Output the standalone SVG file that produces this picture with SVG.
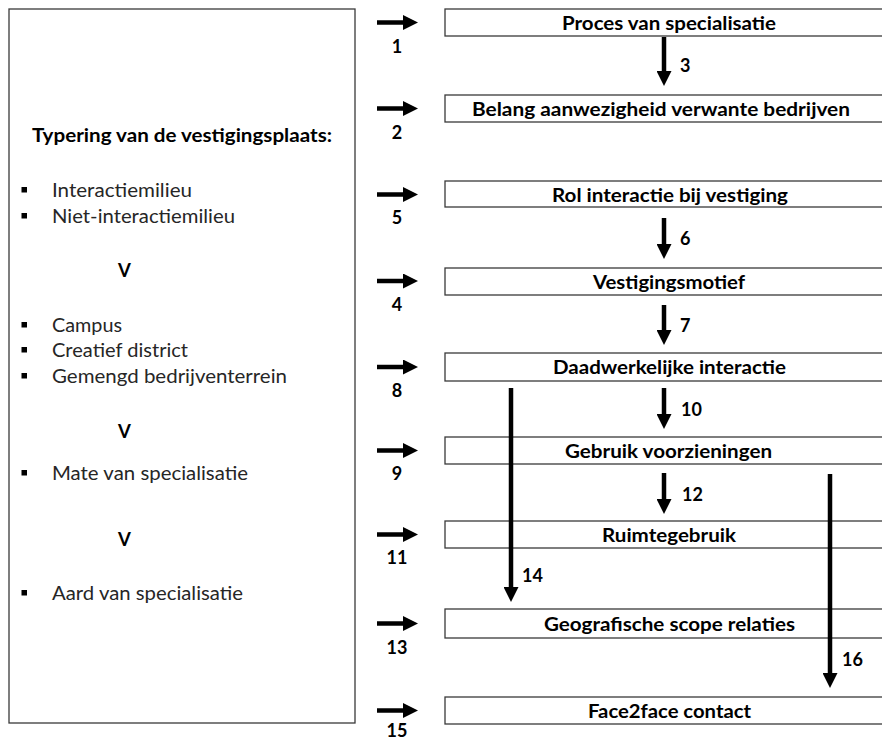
<svg xmlns="http://www.w3.org/2000/svg" width="882" height="740" viewBox="0 0 882 740">
<style>
.box{fill:#fff;stroke:#3a3a3a;stroke-width:1.3}
.bt{font-family:Lato,"Liberation Sans",sans-serif;font-weight:bold;font-size:19.5px;fill:#000}
.lt{font-family:Lato,"Liberation Sans",sans-serif;font-size:18.5px;fill:#262626}
.ttl{font-family:Lato,"Liberation Sans",sans-serif;font-weight:bold;font-size:18.5px;fill:#000}
.num{font-family:Lato,"Liberation Sans",sans-serif;font-weight:bold;font-size:18px;fill:#000;text-anchor:middle}
.vn{font-family:Lato,"Liberation Sans",sans-serif;font-weight:bold;font-size:18px;fill:#000}
.bul{fill:#000}
.arr{stroke:#000;stroke-width:4.5;fill:none;marker-end:url(#ah)}
</style>
<defs>
<marker id="ah" viewBox="0 0 15 15" refX="3" refY="7.5" markerWidth="15" markerHeight="15" markerUnits="userSpaceOnUse" orient="auto">
<path d="M0,0 L15,7.5 L0,15 z" fill="#000"/>
</marker>
</defs>
<rect width="882" height="740" fill="#fff"/>

<g id="left-panel">
<rect class="box" x="9" y="9" width="346" height="714"/>
<text class="ttl" x="32" y="142" textLength="300" lengthAdjust="spacingAndGlyphs">Typering van de vestigingsplaats:</text>
<rect class="bul" x="21.5" y="187" width="5.5" height="5.5"/>
<text class="lt" x="52" y="197" textLength="140" lengthAdjust="spacingAndGlyphs">Interactiemilieu</text>
<rect class="bul" x="21.5" y="213" width="5.5" height="5.5"/>
<text class="lt" x="52" y="223" textLength="183" lengthAdjust="spacingAndGlyphs">Niet-interactiemilieu</text>
<text class="ttl" x="124.5" y="277" text-anchor="middle">V</text>
<rect class="bul" x="21.5" y="322" width="5.5" height="5.5"/>
<text class="lt" x="52" y="332" textLength="70" lengthAdjust="spacingAndGlyphs">Campus</text>
<rect class="bul" x="21.5" y="347" width="5.5" height="5.5"/>
<text class="lt" x="52" y="357" textLength="136" lengthAdjust="spacingAndGlyphs">Creatief district</text>
<rect class="bul" x="21.5" y="373" width="5.5" height="5.5"/>
<text class="lt" x="52" y="383" textLength="235" lengthAdjust="spacingAndGlyphs">Gemengd bedrijventerrein</text>
<text class="ttl" x="124.5" y="438" text-anchor="middle">V</text>
<rect class="bul" x="21.5" y="470" width="5.5" height="5.5"/>
<text class="lt" x="52" y="480" textLength="196" lengthAdjust="spacingAndGlyphs">Mate van specialisatie</text>
<text class="ttl" x="124.5" y="546" text-anchor="middle">V</text>
<rect class="bul" x="21.5" y="590" width="5.5" height="5.5"/>
<text class="lt" x="52" y="600" textLength="191" lengthAdjust="spacingAndGlyphs">Aard van specialisatie</text>
</g>

<g id="n1"><rect class="box" x="445" y="9" width="445" height="27"/><text class="bt" x="562" y="29.5" textLength="214" lengthAdjust="spacingAndGlyphs">Proces van specialisatie</text></g>
<g id="n2"><rect class="box" x="445" y="95" width="445" height="27"/><text class="bt" x="472" y="115.5" textLength="378" lengthAdjust="spacingAndGlyphs">Belang aanwezigheid verwante bedrijven</text></g>
<g id="n5"><rect class="box" x="445" y="181" width="445" height="26"/><text class="bt" x="552" y="201.5" textLength="236" lengthAdjust="spacingAndGlyphs">Rol interactie bij vestiging</text></g>
<g id="n4"><rect class="box" x="445" y="268" width="445" height="27"/><text class="bt" x="593" y="288.5" textLength="152" lengthAdjust="spacingAndGlyphs">Vestigingsmotief</text></g>
<g id="n8"><rect class="box" x="445" y="353" width="445" height="28"/><text class="bt" x="553" y="374" textLength="233" lengthAdjust="spacingAndGlyphs">Daadwerkelijke interactie</text></g>
<g id="n9"><rect class="box" x="445" y="437" width="445" height="27"/><text class="bt" x="565" y="457.5" textLength="207" lengthAdjust="spacingAndGlyphs">Gebruik voorzieningen</text></g>
<g id="n11"><rect class="box" x="445" y="521" width="445" height="27"/><text class="bt" x="602" y="541.5" textLength="134" lengthAdjust="spacingAndGlyphs">Ruimtegebruik</text></g>
<g id="n13"><rect class="box" x="445" y="609" width="445" height="29"/><text class="bt" x="544" y="630.5" textLength="251" lengthAdjust="spacingAndGlyphs">Geografische scope relaties</text></g>
<g id="n15"><rect class="box" x="445" y="697" width="445" height="27"/><text class="bt" x="588" y="717.5" textLength="163" lengthAdjust="spacingAndGlyphs">Face2face contact</text></g>

<g id="connectors">
<line class="arr" x1="377" y1="22.5" x2="406" y2="22.5"/>
<line class="arr" x1="377" y1="108.5" x2="406" y2="108.5"/>
<line class="arr" x1="377" y1="194.5" x2="406" y2="194.5"/>
<line class="arr" x1="377" y1="281" x2="406" y2="281"/>
<line class="arr" x1="377" y1="367" x2="406" y2="367"/>
<line class="arr" x1="377" y1="450.5" x2="406" y2="450.5"/>
<line class="arr" x1="377" y1="534.5" x2="406" y2="534.5"/>
<line class="arr" x1="377" y1="623.5" x2="406" y2="623.5"/>
<line class="arr" x1="377" y1="710.5" x2="406" y2="710.5"/>
<line class="arr" x1="664" y1="37" x2="664" y2="74"/>
<line class="arr" x1="664" y1="218" x2="664" y2="247"/>
<line class="arr" x1="664" y1="305" x2="664" y2="333"/>
<line class="arr" x1="664" y1="388" x2="664" y2="417"/>
<line class="arr" x1="664" y1="473" x2="664" y2="502"/>
<line class="arr" x1="511" y1="388" x2="511" y2="590"/>
<line class="arr" x1="830" y1="474" x2="830" y2="676"/>
<text class="num" x="397" y="53">1</text>
<text class="num" x="397" y="139">2</text>
<text class="num" x="397" y="224">5</text>
<text class="num" x="397" y="311">4</text>
<text class="num" x="397" y="397">8</text>
<text class="num" x="397" y="480">9</text>
<text class="num" x="397" y="564">11</text>
<text class="num" x="397" y="654">13</text>
<text class="num" x="397" y="737">15</text>
<text class="vn" x="680" y="72">3</text>
<text class="vn" x="680" y="245">6</text>
<text class="vn" x="680" y="332">7</text>
<text class="vn" x="681" y="416">10</text>
<text class="vn" x="682" y="501">12</text>
<text class="vn" x="522" y="582">14</text>
<text class="vn" x="842" y="666">16</text>
</g>
</svg>
